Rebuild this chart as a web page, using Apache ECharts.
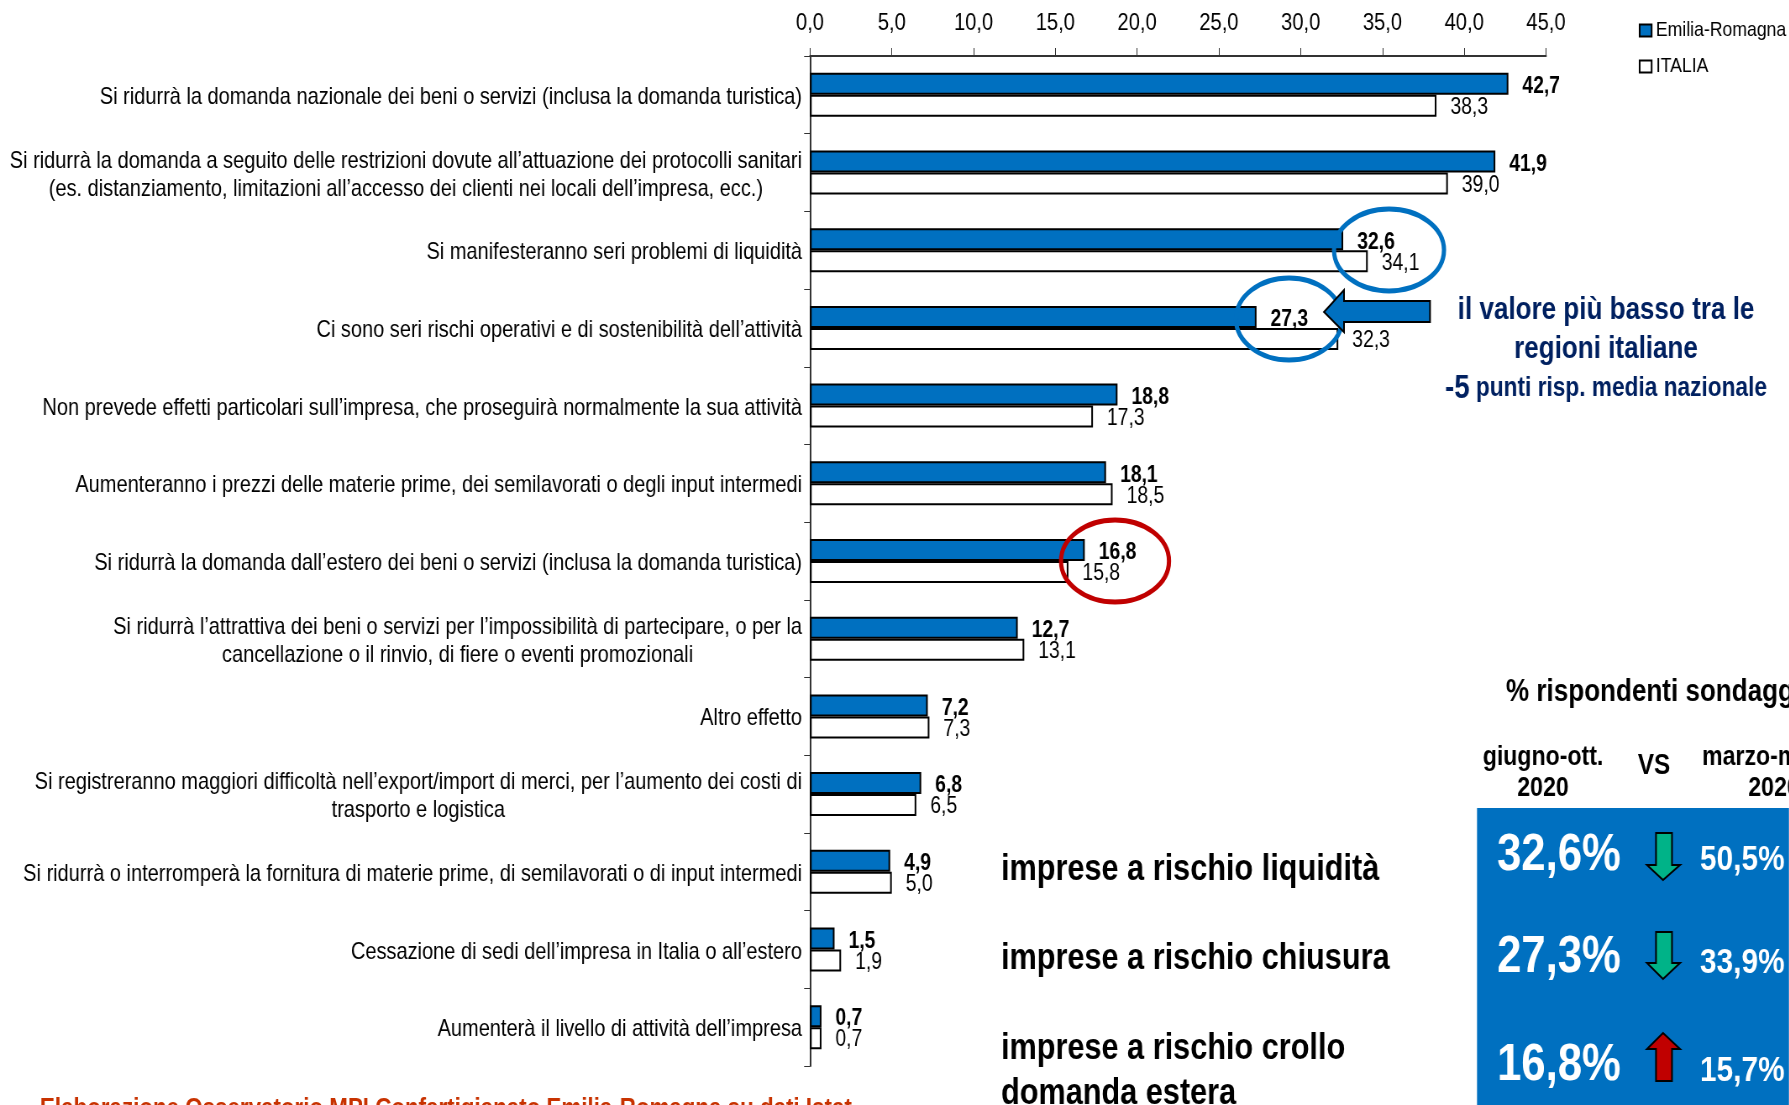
<!DOCTYPE html>
<html>
<head>
<meta charset="utf-8">
<title>Effetti sull'impresa</title>
<style>
html, body { margin: 0; padding: 0; background: #fff; overflow: hidden; width: 1789px; height: 1105px; }
/* the original text is condensed: chart is drawn wider, then squeezed */
#chart { width: 2130px; height: 1105px; transform: scaleX(0.84); transform-origin: 0 0; }
</style>
<script src="https://cdn.jsdelivr.net/npm/echarts@6/dist/echarts.min.js"></script>
</head>
<body>
<div id="chart"></div>
<script>
var FONT = '"Liberation Sans", Arial, sans-serif';
var K = 0.84;

var categories = [
	'Si ridurrà la domanda nazionale dei beni o servizi (inclusa la domanda turistica)',
	'Si ridurrà la domanda a seguito delle restrizioni dovute all’attuazione dei protocolli sanitari\n(es. distanziamento, limitazioni all’accesso dei clienti nei locali dell’impresa, ecc.)',
	'Si manifesteranno seri problemi di liquidità',
	'Ci sono seri rischi operativi e di sostenibilità dell’attività',
	'Non prevede effetti particolari sull’impresa, che proseguirà normalmente la sua attività',
	'Aumenteranno i prezzi delle materie prime, dei semilavorati o degli input intermedi',
	'Si ridurrà la domanda dall’estero dei beni o servizi (inclusa la domanda turistica)',
	'Si ridurrà l’attrattiva dei beni o servizi per l’impossibilità di partecipare, o per la\ncancellazione o il rinvio, di fiere o eventi promozionali',
	'Altro effetto',
	'Si registreranno maggiori difficoltà nell’export/import di merci, per l’aumento dei costi di\ntrasporto e logistica',
	'Si ridurrà o interromperà la fornitura di materie prime, di semilavorati o di input intermedi',
	'Cessazione di sedi dell’impresa in Italia o all’estero',
	'Aumenterà il livello di attività dell’impresa'
];
var emiliaRomagna = [42.7, 41.9, 32.6, 27.3, 18.8, 18.1, 16.8, 12.7, 7.2, 6.8, 4.9, 1.5, 0.7];
var italia = [38.3, 39.0, 34.1, 32.3, 17.3, 18.5, 15.8, 13.1, 7.3, 6.5, 5.0, 1.9, 0.7];

var riskLabels = ['imprese a rischio liquidità', 'imprese a rischio chiusura', 'imprese a rischio crollo', 'domanda estera'];
var surveyNow = ['32,6%', '27,3%', '16,8%'];
var surveyBefore = ['50,5%', '33,9%', '15,7%'];

var BLUE = '#0070c0';
var NAVY = '#002060';
var GREEN = '#00b388';
var RED = '#c00000';

function comma(v) {
	return v.toFixed(1).replace('.', ',');
}

// overlay coordinates are screen pixels, sx() puts them on the wider chart
function sx(x) {
	return x / K;
}

function txt(x, y, text, size, color, align) {
	return {
		type: 'text',
		x: sx(x),
		y: y,
		z: 20,
		style: {
			text: text,
			font: 'bold ' + size + 'px ' + FONT,
			fill: color || '#000',
			align: align || 'left',
			verticalAlign: 'middle'
		}
	};
}

function ring(cx, cy, rx, ry, color) {
	return {
		type: 'ellipse',
		z: 15,
		shape: { cx: sx(cx), cy: cy, rx: sx(rx), ry: ry },
		style: { fill: 'none', stroke: color, lineWidth: 5 }
	};
}

function arrow(points, color) {
	return {
		type: 'polygon',
		z: 18,
		shape: { points: points.map(function (p) { return [sx(p[0]), p[1]]; }) },
		style: { fill: color, stroke: '#000', lineWidth: 2 }
	};
}

var noteDelta = txt(1606, 389, '{big|-5} punti risp. media nazionale', 27, NAVY, 'center');
noteDelta.style.rich = { big: { font: 'bold 33px ' + FONT, fill: NAVY } };

var graphics = [
	{ type: 'rect', z: 10, shape: { x: sx(1477), y: 808, width: sx(312), height: 297 }, style: { fill: BLUE } },

	ring(1389, 250, 55, 41, BLUE),
	ring(1289, 319, 53, 41, BLUE),
	ring(1115, 561, 54, 41, RED),

	// freccia verso il 27,3
	arrow([[1324, 312], [1344, 290], [1344, 301], [1430, 301], [1430, 322], [1344, 322], [1344, 332]], BLUE),

	txt(1606, 310, 'il valore più basso tra le', 31, NAVY, 'center'),
	txt(1606, 349, 'regioni italiane', 31, NAVY, 'center'),
	noteDelta,

	txt(1506, 692, '% rispondenti sondaggio', 31),
	txt(1543, 757, 'giugno-ott.', 27.5, '#000', 'center'),
	txt(1543, 788, '2020', 27.5, '#000', 'center'),
	txt(1654, 766, 'VS', 29, '#000', 'center'),
	txt(1781, 757, 'marzo-maggio', 27.5, '#000', 'center'),
	txt(1774, 788, '2020', 27.5, '#000', 'center'),

	txt(1001, 870, riskLabels[0], 36.5),
	txt(1001, 959, riskLabels[1], 36.5),
	txt(1001, 1049, riskLabels[2], 36.5),
	txt(1001, 1094, riskLabels[3], 36.5),

	txt(1497, 856, surveyNow[0], 52, '#fff'),
	txt(1497, 958, surveyNow[1], 52, '#fff'),
	txt(1497, 1066, surveyNow[2], 52, '#fff'),
	txt(1700, 860, surveyBefore[0], 35.5, '#fff'),
	txt(1700, 963, surveyBefore[1], 35.5, '#fff'),
	txt(1700, 1071, surveyBefore[2], 35.5, '#fff'),

	arrow([[1656, 833], [1672, 833], [1672, 865], [1680, 865], [1663, 880], [1647, 865], [1656, 865]], GREEN),
	arrow([[1656, 932], [1672, 932], [1672, 963], [1680, 963], [1663, 979], [1647, 963], [1656, 963]], GREEN),
	arrow([[1663, 1033], [1680, 1049], [1672, 1049], [1672, 1081], [1656, 1081], [1656, 1049], [1647, 1049]], RED),

	txt(40, 1109, 'Elaborazione Osservatorio MPI Confartigianato Emilia-Romagna su dati Istat', 26.6, '#c83200')
];

var option = {
	animation: false,
	backgroundColor: '#fff',
	textStyle: { fontFamily: FONT },
	grid: { left: sx(810), top: 56, width: sx(736), height: 1010, outerBoundsMode: 'none' },
	legend: {
		orient: 'vertical',
		left: sx(1634.6),
		top: 15,
		icon: 'rect',
		itemWidth: sx(12),
		itemHeight: 12,
		itemGap: 15,
		selectedMode: false,
		textStyle: { fontSize: 21, color: '#000', fontFamily: FONT, padding: 0 },
		data: ['Emilia-Romagna', 'ITALIA']
	},
	xAxis: {
		type: 'value',
		position: 'top',
		min: 0,
		max: 45,
		interval: 5,
		splitLine: { show: false },
		axisLine: { show: true, lineStyle: { color: '#333', width: 2 } },
		axisTick: { show: true, length: 8, lineStyle: { color: '#333' } },
		axisLabel: {
			fontSize: 24,
			color: '#000',
			margin: 21,
			formatter: comma
		}
	},
	yAxis: {
		type: 'category',
		inverse: true,
		data: categories,
		axisLine: { show: true, lineStyle: { color: '#333', width: 2 } },
		axisTick: { show: true, length: 7, lineStyle: { color: '#333' } },
		axisLabel: {
			margin: sx(8),
			align: 'right',
			// every line its own token so the second line centres under the first
			formatter: function (v) {
				return v.split('\n').map(function (line) {
					return '{c|' + line + '}';
				}).join('\n');
			},
			rich: {
				c: {
					fontSize: 23.8,
					fontFamily: FONT,
					color: '#000',
					lineHeight: 28,
					align: 'center',
					padding: [5, 0, 0, 0]
				}
			}
		}
	},
	series: [{
		name: 'Emilia-Romagna',
		type: 'bar',
		data: emiliaRomagna,
		barWidth: 22,
		barGap: 0,
		itemStyle: { color: BLUE, borderColor: '#000', borderWidth: 2 },
		label: {
			show: true,
			position: 'right',
			distance: sx(14),
			offset: [0, 3],
			fontSize: 23,
			fontWeight: 'bold',
			color: '#000',
			formatter: function (p) { return comma(p.value); }
		}
	}, {
		name: 'ITALIA',
		type: 'bar',
		data: italia,
		barWidth: 22,
		barGap: 0,
		itemStyle: { color: '#fff', borderColor: '#000', borderWidth: 2 },
		label: {
			show: true,
			position: 'right',
			distance: sx(14),
			offset: [0, 2],
			fontSize: 23,
			color: '#000',
			formatter: function (p) { return comma(p.value); }
		}
	}],
	graphic: { elements: graphics }
};

var chart = echarts.init(document.getElementById('chart'));
chart.setOption(option);
</script>
</body>
</html>
